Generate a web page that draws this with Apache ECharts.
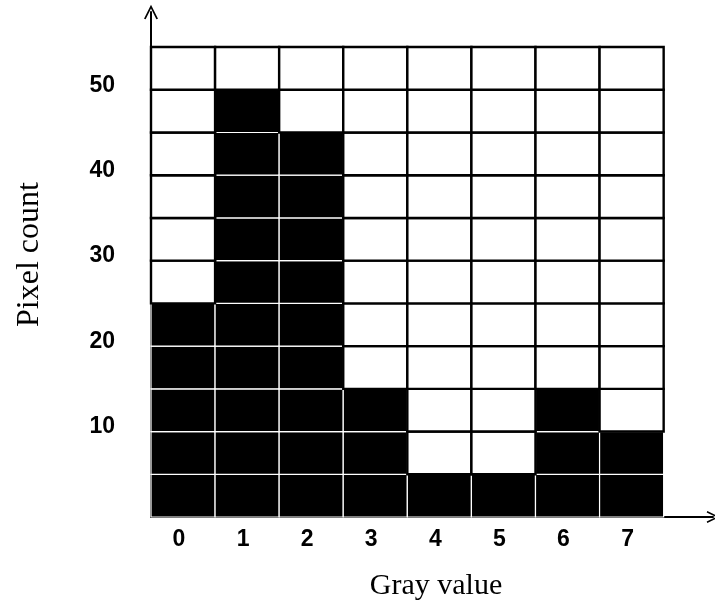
<!DOCTYPE html>
<html>
<head>
<meta charset="utf-8">
<script src="https://cdn.jsdelivr.net/npm/echarts@6/dist/echarts.min.js"></script>
<style>
html, body { margin: 0; padding: 0; background: #fff; }
#chart { width: 715px; height: 601px; }
</style>
</head>
<body>
<div id="chart"></div>
<script>
// 灰度直方图数据
var grayValues = ['0', '1', '2', '3', '4', '5', '6', '7'];
var pixelCounts = [25, 50, 45, 15, 5, 5, 15, 10];
var cellStep = 5;
var rowCount = 11; // 0 ~ 55

var chartData = [];
for (var i = 0; i < grayValues.length; i++) {
    chartData.push([i, pixelCounts[i]]);
}

var openArrow = 'path://M0,12 L6,0 L12,12 L10.6,12.6 L6,3.2 L1.4,12.6 Z';

function renderCells(params, api) {
    var col = api.value(0);
    var val = api.value(1);
    var children = [];
    for (var k = 0; k < rowCount; k++) {
        var p0 = api.coord([col, k * cellStep]);
        var p1 = api.coord([col + 1, (k + 1) * cellStep]);
        var filled = (k + 1) * cellStep <= val;
        children.push({
            type: 'rect',
            z2: filled ? 1 : 2,
            shape: { x: p0[0], y: p1[1], width: p1[0] - p0[0], height: p0[1] - p1[1] },
            style: filled
                ? { fill: '#000', stroke: '#fff', lineWidth: 1.2 }
                : { fill: '#fff', stroke: '#000', lineWidth: 2.4 }
        });
    }
    return { type: 'group', children: children };
}

var myChart = echarts.init(document.getElementById('chart'));
var option = {
    animation: false,
    backgroundColor: '#fff',
    grid: { left: 151, right: 2, top: 12, bottom: 84, outerBoundsMode: 'none' },
    xAxis: {
        type: 'value',
        min: 0,
        max: 8.77,
        interval: 1,
        name: 'Gray value',
        nameLocation: 'middle',
        nameGap: 54,
        nameTextStyle: { fontFamily: 'Liberation Serif', fontSize: 30, color: '#000', padding: [0, 0, 0, 8] },
        axisLine: { show: true, symbol: ['none', openArrow], symbolSize: [12, 14], lineStyle: { color: '#000', width: 2 } },
        axisTick: { show: false },
        splitLine: { show: false },
        axisLabel: {
            margin: 11,
            padding: [0, 0, 0, 56],
            fontFamily: 'Liberation Sans',
            fontWeight: 'bold',
            fontSize: 23,
            color: '#000',
            formatter: function (v) {
                return grayValues[v] !== undefined ? grayValues[v] : '';
            }
        }
    },
    yAxis: {
        type: 'value',
        min: 0,
        max: 59.1,
        interval: 5,
        name: 'Pixel count',
        nameLocation: 'middle',
        nameGap: 105,
        nameTextStyle: { fontFamily: 'Liberation Serif', fontSize: 32, color: '#000', padding: [0, 0, 0, 20] },
        axisLine: { show: true, symbol: ['none', openArrow], symbolSize: [14, 16], lineStyle: { color: '#000', width: 2 } },
        axisTick: { show: false },
        splitLine: { show: false },
        axisLabel: {
            margin: 36,
            verticalAlign: 'bottom',
            lineHeight: 9,
            fontFamily: 'Liberation Sans',
            fontWeight: 'bold',
            fontSize: 23,
            color: '#000',
            formatter: function (v) {
                return (v > 0 && v % 10 === 0) ? String(v) : '';
            }
        }
    },
    series: [{
        type: 'custom',
        renderItem: renderCells,
        data: chartData,
        clip: false
    }]
};
myChart.setOption(option);
</script>
</body>
</html>
